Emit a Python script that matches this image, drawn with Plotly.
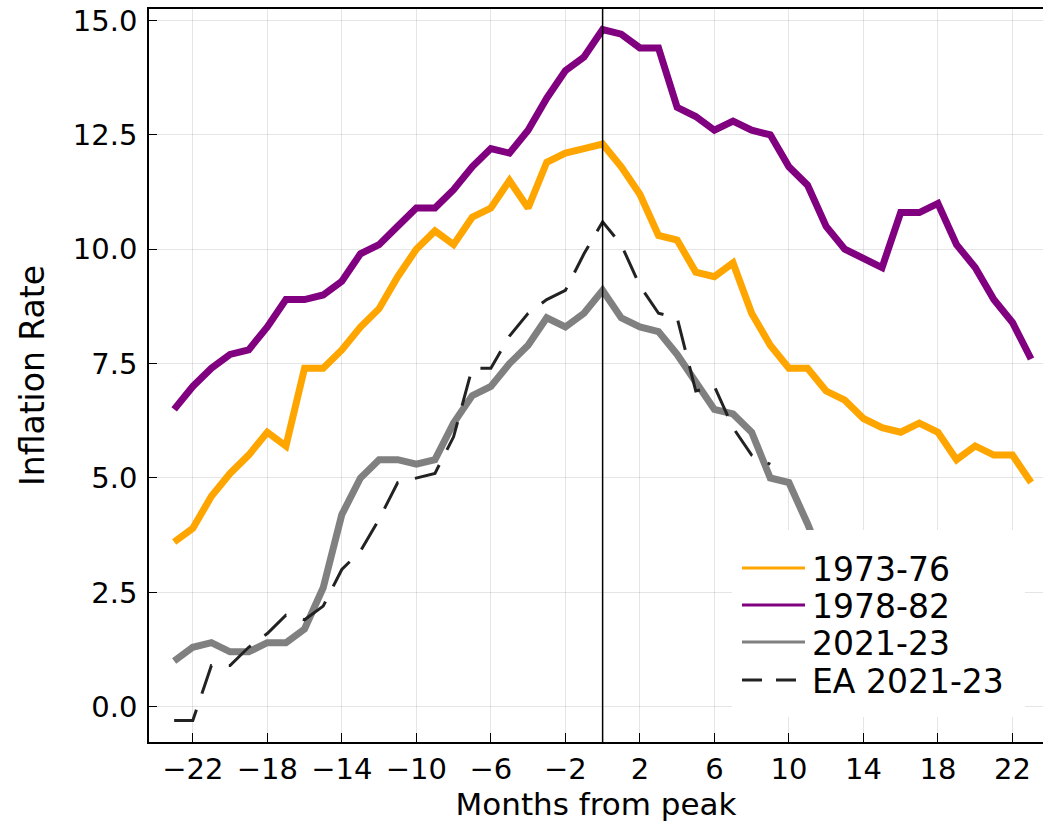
import plotly.graph_objects as go

# Months relative to each episode's inflation peak
months_7376 = list(range(-23, 24))
months_7882 = list(range(-23, 24))
months_2123 = list(range(-23, 13))
months_ea = list(range(-23, 10))

infl_7376 = [3.6, 3.9, 4.6, 5.1, 5.5, 6.0, 5.7, 7.4, 7.4, 7.8, 8.3, 8.7,
             9.4, 10.0, 10.4, 10.1, 10.7, 10.9, 11.5, 10.9, 11.9, 12.1, 12.2, 12.3,
             11.8, 11.2, 10.3, 10.2, 9.5, 9.4, 9.7, 8.6, 7.9, 7.4, 7.4, 6.9,
             6.7, 6.3, 6.1, 6.0, 6.2, 6.0, 5.4, 5.7, 5.5, 5.5, 4.9]
infl_7882 = [6.5, 7.0, 7.4, 7.7, 7.8, 8.3, 8.9, 8.9, 9.0, 9.3, 9.9, 10.1,
             10.5, 10.9, 10.9, 11.3, 11.8, 12.2, 12.1, 12.6, 13.3, 13.9, 14.2, 14.8,
             14.7, 14.4, 14.4, 13.1, 12.9, 12.6, 12.8, 12.6, 12.5, 11.8, 11.4, 10.5,
             10.0, 9.8, 9.6, 10.8, 10.8, 11.0, 10.1, 9.6, 8.9, 8.4, 7.6]
infl_2123 = [1.0, 1.3, 1.4, 1.2, 1.2, 1.4, 1.4, 1.7, 2.6, 4.2, 5.0, 5.4,
             5.4, 5.3, 5.4, 6.2, 6.8, 7.0, 7.5, 7.9, 8.5, 8.3, 8.6, 9.1,
             8.5, 8.3, 8.2, 7.7, 7.1, 6.5, 6.4, 6.0, 5.0, 4.9, 4.0, 3.0]
infl_ea = [-0.3, -0.3, 0.9, 0.9, 1.3, 1.6, 2.0, 1.9, 2.2, 3.0, 3.4, 4.1,
           4.9, 5.0, 5.1, 5.9, 7.4, 7.4, 8.1, 8.6, 8.9, 9.1, 9.9, 10.6,
           10.1, 9.2, 8.6, 8.5, 6.9, 7.0, 6.1, 5.5, 5.3]

peak_month = 0
x_ticks = list(range(-22, 23, 4))
y_ticks = [0.0, 2.5, 5.0, 7.5, 10.0, 12.5, 15.0]

FONT = "DejaVu Sans"
W, H = 1043, 827
M_L, M_R, M_T, M_B = 149, 0, 9, 85

series = [
    ("1973-76", months_7376, infl_7376, "#FFA500", 7, "solid"),
    ("1978-82", months_7882, infl_7882, "#800080", 7, "solid"),
    ("2021-23", months_2123, infl_2123, "#808080", 7, "solid"),
    ("EA 2021-23", months_ea, infl_ea, "#222222", 3, "30px,17px"),
]

fig = go.Figure()
for name, xs, ys, color, width, dash in series:
    fig.add_trace(go.Scatter(
        x=xs, y=ys, mode="lines", name=name, showlegend=False,
        line=dict(color=color, width=width, dash=dash),
    ))

fig.add_vline(x=peak_month, line=dict(color="black", width=1.5), layer="above")


# Legend box, placed in pixel units and converted to paper coordinates
def px(v):
    return (v - M_L) / (W - M_L - M_R)


def py(v):
    return (H - M_B - v) / (H - M_T - M_B)


fig.add_shape(type="rect", xref="paper", yref="paper",
              x0=px(732), x1=px(1025), y0=py(717), y1=py(530),
              fillcolor="white", line=dict(width=0), layer="above")
row_y = [568, 605, 642, 680]
for (name, xs, ys, color, width, dash), ry in zip(series, row_y):
    fig.add_shape(type="line", xref="paper", yref="paper",
                  x0=px(742), x1=px(805), y0=py(ry), y1=py(ry),
                  line=dict(color=color, width=3,
                            dash="solid" if dash == "solid" else "20px,14px"),
                  layer="above")
    fig.add_annotation(xref="paper", yref="paper", x=px(810), y=py(ry + 1),
                       xanchor="left", yanchor="middle", showarrow=False,
                       text=name, font=dict(family=FONT, size=33, color="black"))

fig.update_layout(
    width=W, height=H, autosize=False,
    margin=dict(l=M_L, r=M_R, t=M_T, b=M_B),
    paper_bgcolor="white", plot_bgcolor="white",
    font=dict(family=FONT, color="black"),
    showlegend=False,
)

fig.update_xaxes(
    range=[-24.35, 23.64], tickvals=x_ticks,
    showgrid=True, gridcolor="rgba(0,0,0,0.1)", gridwidth=1,
    zeroline=False, showline=True, linecolor="black", linewidth=1.5, mirror=True,
    ticks="inside", ticklen=9, tickwidth=1.2, tickcolor="black",
    tickfont=dict(family=FONT, size=29, color="black"),
    title=dict(text="Months from peak", font=dict(family=FONT, size=31, color="black"), standoff=8),
)
fig.update_yaxes(
    range=[-0.77, 15.25], tickvals=y_ticks, tickformat=".1f",
    showgrid=True, gridcolor="rgba(0,0,0,0.1)", gridwidth=1,
    zeroline=False, showline=True, linecolor="black", linewidth=1.5, mirror=False,
    ticks="inside", ticklen=8, tickwidth=1.2, tickcolor="black",
    tickfont=dict(family=FONT, size=29, color="black"),
    ticklabelstandoff=4,
    title=dict(text="Inflation Rate", font=dict(family=FONT, size=33, color="black"), standoff=18),
)

fig.write_html("out.html")
